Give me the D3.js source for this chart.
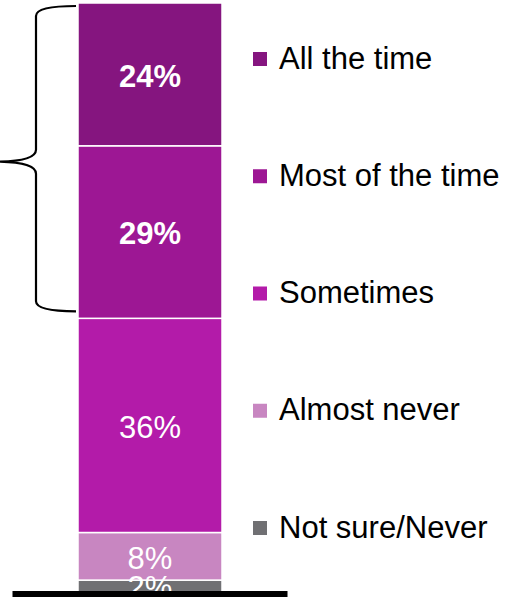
<!DOCTYPE html>
<html>
<head>
<meta charset="utf-8">
<script src="https://cdn.jsdelivr.net/npm/d3@7"></script>
<style>
  html, body { margin: 0; padding: 0; background: #fff; }
  svg { display: block; }
  text { font-family: "Liberation Sans", Arial, sans-serif; }
</style>
</head>
<body>
<div id="chart"></div>
<script>
// Response categories, top of the stack first
const categories = ["All the time", "Most of the time", "Sometimes", "Almost never", "Not sure/Never"];
const values = [24, 29, 36, 8, 2];
const valueLabels = ["24%", "29%", "36%", "8%", "2%"];
const colors = ["#85157f", "#9d1794", "#b31ba9", "#c886c1", "#707073"];

const width = 506, height = 597;
const svg = d3.select("#chart").append("svg")
  .attr("width", width).attr("height", height);

// Stack from the bottom up: last category sits on the baseline
const order = d3.range(categories.length).reverse();
const segments = [];
let acc = 0;
order.forEach(i => {
  segments.push({ i, y0: acc, y1: acc + values[i] });
  acc += values[i];
});
const total = acc;

const y = d3.scaleLinear().domain([0, total]).range([592, 3]);
const x = d3.scaleBand().domain(["bar"]).range([78, 222]).padding(0);

// Bar segments
svg.append("g").selectAll("rect")
  .data(segments)
  .join("rect")
  .attr("x", x("bar"))
  .attr("width", x.bandwidth())
  .attr("y", d => y(d.y1))
  .attr("height", d => y(d.y0) - y(d.y1))
  .attr("fill", d => colors[d.i])
  .attr("stroke", "#fff")
  .attr("stroke-width", 1.5);

// Value labels, bold for the two bracketed categories
svg.append("g").selectAll("text")
  .data(segments)
  .join("text")
  .attr("x", x("bar") + x.bandwidth() / 2)
  .attr("y", d => (y(d.y0) + y(d.y1)) / 2 + 1.5)
  .attr("dy", "0.35em")
  .attr("text-anchor", "middle")
  .attr("fill", "#fff")
  .attr("font-size", 31)
  .attr("font-weight", d => d.i < 2 ? "bold" : "normal")
  .text(d => valueLabels[d.i]);

// Baseline
svg.append("rect")
  .attr("x", 12.5).attr("y", y(0) - 1)
  .attr("width", 275).attr("height", 8)
  .attr("fill", "#000");

// Curly brace grouping the top two categories
const bTop = y(total) + 3, bBot = y(total - values[0] - values[1]) - 7;
const bMid = (y(total) + y(total - values[0] - values[1])) / 2 + 1;
const bx = 36, ex = 76;
svg.append("path")
  .attr("d", `M${ex},${bTop} Q${bx},${bTop} ${bx},${bTop + 10} L${bx},${bMid - 12}
    Q${bx},${bMid - 1} 0,${bMid} Q${bx},${bMid + 1} ${bx},${bMid + 12}
    L${bx},${bBot - 10} Q${bx},${bBot} ${ex},${bBot}`)
  .attr("fill", "none")
  .attr("stroke", "#000")
  .attr("stroke-width", 2.2);

// Legend
const legendY = d3.scaleLinear().domain([0, categories.length - 1]).range([57.5, 526.5]);
const legend = svg.append("g").selectAll("g")
  .data(categories)
  .join("g")
  .attr("transform", (d, i) => `translate(0,${legendY(i)})`);

legend.append("rect")
  .attr("x", 253).attr("y", -5.5)
  .attr("width", 14).attr("height", 14)
  .attr("fill", (d, i) => colors[i]);

legend.append("text")
  .attr("x", 279)
  .attr("y", 11)
  .attr("font-size", 31)
  .attr("fill", "#000")
  .text(d => d);
</script>
</body>
</html>
